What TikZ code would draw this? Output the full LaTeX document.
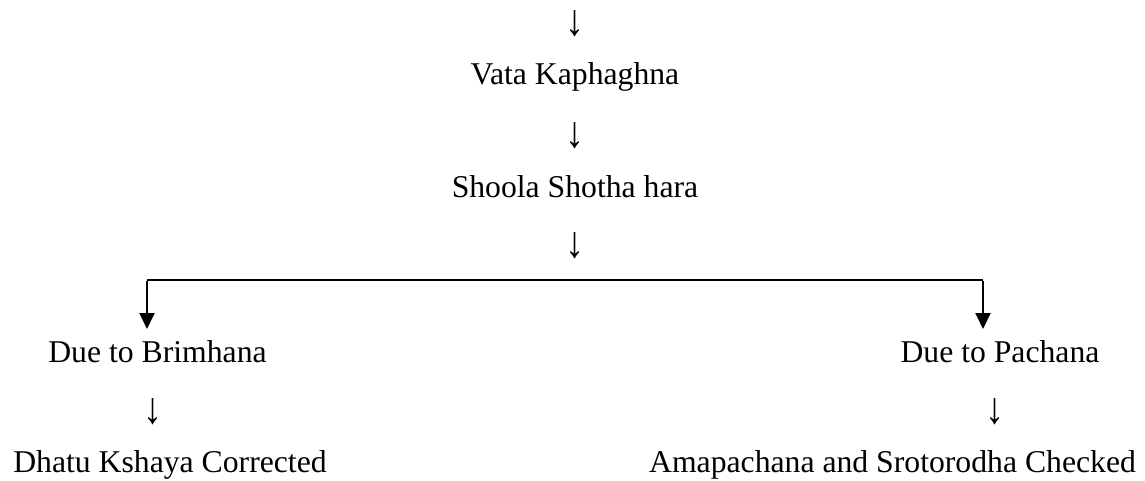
\documentclass[tikz,border=0pt]{standalone}
\usepackage{fontspec}
\setmainfont{Liberation Serif}
\usetikzlibrary{arrows.meta}
\tikzset{
  lbl/.style={anchor=base, inner sep=0pt, font=\fontsize{31.7}{38}\selectfont},
  darr/.style={anchor=center, inner sep=0pt, font=\fontsize{31.7}{38}\selectfont},
  branch/.style={line width=2pt},
  branchar/.style={line width=2pt, -{Triangle[length=16pt,width=15pt]}}
}
\newcommand{\dnarrow}{\scalebox{1.2}[1.4]{↓}}
\begin{document}
\begin{tikzpicture}[x=1pt,y=-1pt]
\useasboundingbox (0,0) rectangle (1145,481);
\node[darr] (a0) at (575,24) {\dnarrow};
\node[lbl] (v) at (575,85) {Vata Kaphaghna};
\node[darr] (a1) at (575,135.5) {\dnarrow};
\node[lbl] (s) at (575,197) {Shoola Shotha hara};
\node[darr] (a2) at (575,245.5) {\dnarrow};
\coordinate (L) at (147,280);
\coordinate (R) at (983,280);
\coordinate (Lt) at (147,329);
\coordinate (Rt) at (983,329);
\draw[branch] (L) -- (R);
\draw[branchar] ([yshift=-1pt]L) -- (Lt);
\draw[branchar] ([yshift=-1pt]R) -- (Rt);
\node[lbl] (b) at (157.5,362) {Due to Brimhana};
\node[lbl] (p) at (1000,362) {Due to Pachana};
\node[darr] (a3) at (153,411.5) {\dnarrow};
\node[darr] (a4) at (995,411.5) {\dnarrow};
\node[lbl] (d) at (170,472) {Dhatu Kshaya Corrected};
\node[lbl] (m) at (892.5,472) {Amapachana and Srotorodha Checked};
\end{tikzpicture}
\end{document}
